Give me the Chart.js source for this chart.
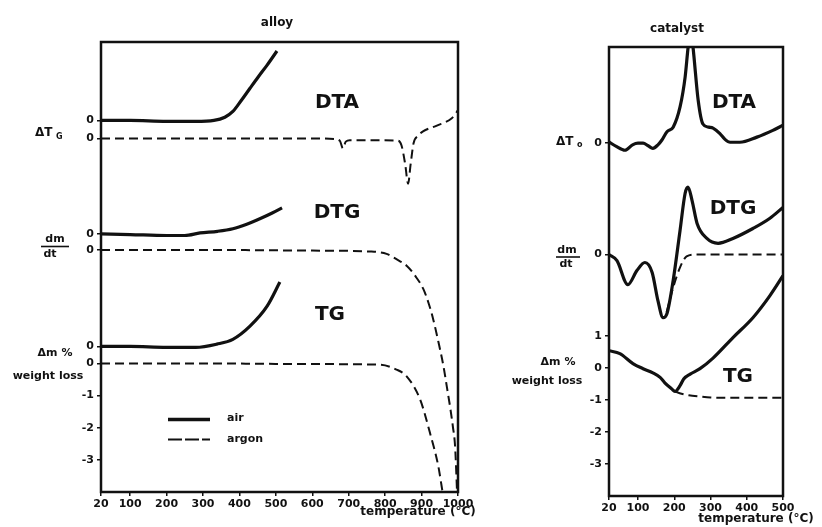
<!DOCTYPE html>
<html><head><meta charset="utf-8">
<script src="https://cdn.jsdelivr.net/npm/chart.js@4/dist/chart.umd.min.js"></script>
<style>
html,body{margin:0;padding:0;background:#fff;width:822px;height:527px;overflow:hidden}
#c1{position:absolute;left:0;top:0;width:500px;height:527px}
#c2{position:absolute;left:480px;top:0;width:342px;height:527px}
</style></head><body>
<canvas id="c1" width="500" height="527"></canvas>
<canvas id="c2" width="342" height="527"></canvas>
<script>
// ---------- ALLOY panel data (values relative to each curve's own zero line) ----------
const alloyXTicks = [20,100,200,300,400,500,600,700,800,900,1000];
const alloyBaselines = {dtaAir:7.56, dtaArgon:7.0, dtgAir:4.03, dtgArgon:3.53, tgAir:0.53, tgArgon:0};
const alloyYTickValues = [7.56, 7.0, 4.03, 3.53, 0.53, 0, -1, -2, -3];
const alloyYTickLabels = ['0','0','0','0','0','0','-1','-2','-3'];

const alloyDtaAirT = [20,100,200,280,330,360,382,405,429,452,476,503];
const alloyDtaAirV = [0,0,-0.03,-0.03,0,0.1,0.28,0.62,1.0,1.36,1.72,2.16];
const alloyDtaArgonT = [20,300,600,664,676,684,692,703,780,835,845,855,863,870,878,890,904,942,983,992,1000];
const alloyDtaArgonV = [0,0,0,-0.02,-0.08,-0.31,-0.1,-0.06,-0.06,-0.07,-0.22,-0.8,-1.41,-0.8,-0.15,0.08,0.22,0.4,0.63,0.75,0.88];
const alloyDtgAirT = [20,100,200,250,292,340,382,420,456,490,517];
const alloyDtgAirV = [0,-0.02,-0.05,-0.05,0.03,0.08,0.16,0.3,0.47,0.65,0.81];
const alloyDtgArgonT = [20,300,600,760,804,830,859,884,905,920,932,946,960,970,978,986,992,998];
const alloyDtgArgonV = [0,0,-0.02,-0.05,-0.12,-0.28,-0.49,-0.83,-1.22,-1.68,-2.16,-2.85,-3.61,-4.3,-4.86,-5.5,-6.11,-7.7];
const alloyTgAirT = [20,100,200,280,338,382,429,476,511];
const alloyTgAirV = [0,0,-0.03,-0.03,0.07,0.22,0.63,1.25,2.0];
const alloyTgArgonT = [20,300,600,786,831,859,896,923,946,958,962];
const alloyTgArgonV = [0,0,-0.02,-0.04,-0.19,-0.4,-1.12,-2.16,-3.2,-4.03,-4.3];

// ---------- CATALYST panel data ----------
const catXTicks = [20,100,200,300,400,500];
const catBaselines = {dta:7.0, dtg:3.53, tg:0};
const catYTickValues = [7.0, 3.53, 1, 0, -1, -2, -3];
const catYTickLabels = ['0','0','1','0','-1','-2','-3'];

const catDtaT = [20,40,64,85,100,114,128,141,155,166,180,197,216,230,238,245,252,266,279,295,307,326,340,354,381,428,472,500];
const catDtaV = [0.04,-0.1,-0.22,-0.05,0,0,-0.08,-0.16,-0.05,0.1,0.36,0.5,1.13,2.06,2.97,3.6,2.97,1.34,0.6,0.5,0.47,0.3,0.12,0.03,0.03,0.19,0.4,0.56];
const catDtgAirT = [20,42,72,97,119,139,155,169,180,197,216,230,238,249,263,290,321,362,417,464,500];
const catDtgAirV = [0,-0.19,-0.94,-0.5,-0.25,-0.56,-1.44,-1.97,-1.84,-0.81,0.75,1.91,2.1,1.69,0.97,0.5,0.35,0.5,0.81,1.13,1.47];
const catDtgArgonT = [179,197,216,234,260,350,500];
const catDtgArgonV = [-1.8,-1.03,-0.4,-0.06,0,0,0];
const catTgAirT = [20,50,86,114,141,161,174,193,202,216,226,244,271,307,362,417,464,500];
const catTgAirV = [0.53,0.44,0.13,-0.03,-0.16,-0.3,-0.47,-0.66,-0.74,-0.56,-0.35,-0.2,-0.03,0.3,0.94,1.56,2.25,2.87];
const catTgArgonT = [202,220,240,271,300,350,500];
const catTgArgonV = [-0.74,-0.81,-0.86,-0.9,-0.93,-0.94,-0.94];

// ---------- helpers ----------
const INK = '#111';
const FONT = 'DejaVu Sans';
function pts(T, V, base){ return T.map((t,i)=>({x:t, y:V[i]+base})); }
function solid(data){ return {data, borderColor:INK, borderWidth:3.2, pointRadius:0, fill:false, cubicInterpolationMode:'monotone'}; }
function dashed(data){ return {data, borderColor:INK, borderWidth:2, borderDash:[9,5], pointRadius:0, fill:false, cubicInterpolationMode:'monotone'}; }

function annotPlugin(items, bars, legend){
  return {id:'annot', afterDraw(chart){
    const ctx = chart.ctx, a = chart.chartArea;
    ctx.save();
    ctx.strokeStyle = INK; ctx.lineWidth = 2.5; ctx.setLineDash([]);
    ctx.strokeRect(a.left, a.top, a.right-a.left, a.bottom-a.top);
    ctx.fillStyle = INK; ctx.textBaseline = 'middle';
    items.forEach(it=>{ ctx.font = it.f; ctx.textAlign = it.a || 'left'; ctx.fillText(it.t, it.x, it.y); });
    ctx.lineWidth = 1.6;
    bars.forEach(b=>{ ctx.beginPath(); ctx.moveTo(b[0], b[2]); ctx.lineTo(b[1], b[2]); ctx.stroke(); });
    if (legend){
      ctx.lineWidth = 3.5; ctx.beginPath(); ctx.moveTo(168,419.5); ctx.lineTo(210,419.5); ctx.stroke();
      ctx.lineWidth = 1.8; ctx.setLineDash([14,3]); ctx.beginPath(); ctx.moveTo(168,439.5); ctx.lineTo(210,439.5); ctx.stroke();
      ctx.setLineDash([]);
      ctx.font = 'bold 11px ' + FONT; ctx.textAlign = 'left';
      ctx.fillText('air', 227, 418);
      ctx.fillText('argon', 227, 439);
    }
    ctx.restore();
  }};
}

function scales(xTicks, xMax, yVals, yLabels, yWidth, xHeight){
  return {
    x: {type:'linear', min:20, max:xMax,
        afterBuildTicks: ax => { ax.ticks = xTicks.map(v=>({value:v})); },
        afterFit: ax => { ax.height = xHeight; },
        grid:{display:true, drawOnChartArea:false, drawTicks:true, tickLength:4, color:INK, lineWidth:1.5},
        border:{display:false},
        ticks:{autoSkip:false, maxRotation:0, padding:2, color:INK, font:{family:FONT, size:11, weight:'bold'}, callback:v=>String(v)}},
    y: {type:'linear', min:-4, max:10,
        afterBuildTicks: ax => { ax.ticks = yVals.map(v=>({value:v})); },
        afterFit: ax => { ax.width = yWidth; },
        grid:{display:true, drawOnChartArea:false, drawTicks:true, tickLength:4, color:INK, lineWidth:1.5},
        border:{display:false},
        ticks:{autoSkip:false, padding:3, color:INK, font:{family:FONT, size:11, weight:'bold'}, callback:(v,i)=>yLabels[i]}}
  };
}

const big = 'bold 20px ' + FONT, sm = 'bold 11px ' + FONT, ttl = 'bold 12px ' + FONT;

// ---------- ALLOY chart ----------
const B = alloyBaselines;
new Chart(document.getElementById('c1'), {
  type:'line',
  data:{datasets:[
    solid(pts(alloyDtaAirT, alloyDtaAirV, B.dtaAir)),
    dashed(pts(alloyDtaArgonT, alloyDtaArgonV, B.dtaArgon)),
    solid(pts(alloyDtgAirT, alloyDtgAirV, B.dtgAir)),
    dashed(pts(alloyDtgArgonT, alloyDtgArgonV, B.dtgArgon)),
    solid(pts(alloyTgAirT, alloyTgAirV, B.tgAir)),
    dashed(pts(alloyTgArgonT, alloyTgArgonV, B.tgArgon))
  ]},
  options:{
    responsive:false, animation:false, devicePixelRatio:1,
    layout:{padding:{left:0, right:42, top:42, bottom:0}},
    plugins:{legend:{display:false}, tooltip:{enabled:false}},
    scales: scales(alloyXTicks, 1000, alloyYTickValues, alloyYTickLabels, 101, 35)
  },
  plugins:[annotPlugin([
    {t:'alloy', x:277, y:23, f:ttl, a:'center'},
    {t:'DTA', x:337, y:103, f:big, a:'center'},
    {t:'DTG', x:337, y:213, f:big, a:'center'},
    {t:'TG', x:330, y:315, f:big, a:'center'},
    {t:'ΔT', x:35, y:133, f:'bold 12px '+FONT},
    {t:'G', x:56, y:137, f:'bold 8px '+FONT},
    {t:'dm', x:55, y:239, f:sm, a:'center'},
    {t:'dt', x:50, y:254, f:sm, a:'center'},
    {t:'Δm %', x:55, y:353, f:sm, a:'center'},
    {t:'weight loss', x:48, y:376, f:sm, a:'center'},
    {t:'temperature (°C)', x:418, y:512, f:ttl, a:'center'}
  ], [[41,69,246.5]], true)]
});

// ---------- CATALYST chart ----------
const C = catBaselines;
new Chart(document.getElementById('c2'), {
  type:'line',
  data:{datasets:[
    solid(pts(catDtaT, catDtaV, C.dta)),
    solid(pts(catDtgAirT, catDtgAirV, C.dtg)),
    dashed(pts(catDtgArgonT, catDtgArgonV, C.dtg)),
    solid(pts(catTgAirT, catTgAirV, C.tg)),
    dashed(pts(catTgArgonT, catTgArgonV, C.tg))
  ]},
  options:{
    responsive:false, animation:false, devicePixelRatio:1,
    layout:{padding:{left:0, right:39, top:47, bottom:0}},
    plugins:{legend:{display:false}, tooltip:{enabled:false}},
    scales: scales(catXTicks, 500, catYTickValues, catYTickLabels, 129, 31)
  },
  plugins:[annotPlugin([
    {t:'catalyst', x:197, y:29, f:ttl, a:'center'},
    {t:'DTA', x:254, y:103, f:big, a:'center'},
    {t:'DTG', x:253, y:209, f:big, a:'center'},
    {t:'TG', x:258, y:377, f:big, a:'center'},
    {t:'ΔT', x:76, y:142, f:'bold 12px '+FONT},
    {t:'o', x:97, y:145, f:'bold 8px '+FONT},
    {t:'dm', x:87, y:250, f:sm, a:'center'},
    {t:'dt', x:86, y:264, f:sm, a:'center'},
    {t:'Δm %', x:78, y:362, f:sm, a:'center'},
    {t:'weight loss', x:67, y:381, f:sm, a:'center'},
    {t:'temperature (°C)', x:276, y:519, f:ttl, a:'center'}
  ], [[76,100,257]], false)]
});
</script>
</body></html>
